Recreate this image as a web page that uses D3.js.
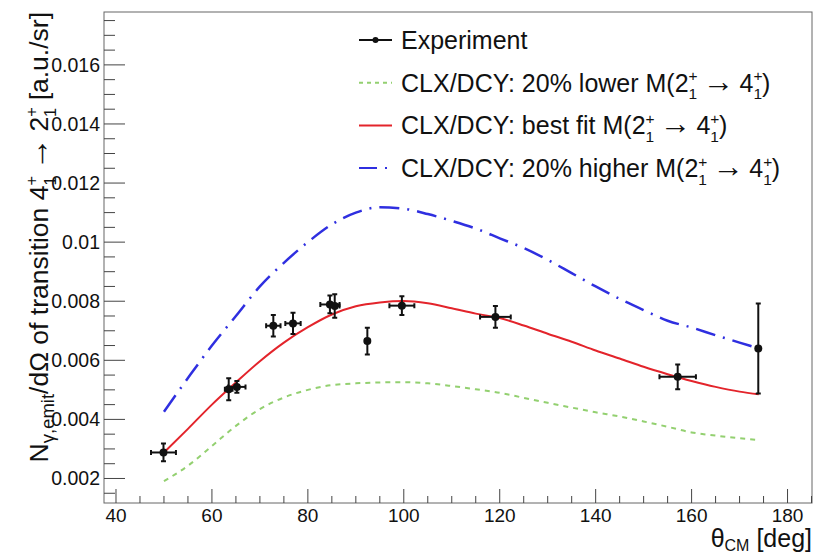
<!DOCTYPE html>
<html lang="en">
<head>
    <meta charset="UTF-8">
    <title>Gamma yield vs theta CM</title>
    <script src="https://d3js.org/d3.v7.min.js"></script>
    <style>
        body { margin: 0; background: #fff; }
        svg text { font-family: "Liberation Sans", Arial, sans-serif; fill: #111; }
        .frame { fill: none; stroke: #666; stroke-width: 1; }
        .tick line { stroke: #444; }
    </style>
</head>
<body>
    <div id="chart"></div>

    <script>
        // Experimental points
        const thetaExp = [49.9, 63.5, 65.2, 72.8, 76.9, 84.6, 85.6, 92.4, 99.6, 119.1, 157.1, 173.9];
        const thetaErr = [2.6, 0.8, 1.8, 1.5, 1.6, 2.0, 1.0, 0.4, 2.6, 3.2, 3.8, 0];
        const yieldExp = [0.00288, 0.00502, 0.0051, 0.00717, 0.00725, 0.00789, 0.00784, 0.00665, 0.00785, 0.00747, 0.00544, 0.0064];
        const yieldErr = [0.0003, 0.00037, 0.0002, 0.00036, 0.00036, 0.0003, 0.0004, 0.00045, 0.00032, 0.00037, 0.00042, 0.00152];

        // CLX/DCY calculations
        const thetaCalc = [50, 55, 60, 65, 70, 75, 80, 85, 90, 95, 100, 105, 110, 115, 120, 125, 130, 135, 140, 145, 150, 155, 160, 165, 170, 174];
        const calcLower = [0.00191, 0.00243, 0.0031, 0.00378, 0.00435, 0.00474, 0.005, 0.00516, 0.00522, 0.00525, 0.00526, 0.00522, 0.00513, 0.00502, 0.0049, 0.00473, 0.00456, 0.0044, 0.00424, 0.0041, 0.00393, 0.00375, 0.00356, 0.00345, 0.00336, 0.0033];
        const calcBest = [0.00288, 0.00368, 0.0045, 0.00525, 0.00597, 0.0066, 0.00712, 0.00755, 0.00783, 0.00796, 0.00801, 0.00793, 0.00776, 0.00758, 0.00743, 0.00718, 0.0069, 0.00663, 0.00633, 0.00606, 0.00578, 0.00553, 0.0053, 0.0051, 0.00494, 0.00485];
        const calcHigher = [0.00426, 0.0054, 0.0065, 0.0075, 0.0085, 0.0093, 0.01, 0.0106, 0.011, 0.01118, 0.01113, 0.01095, 0.01072, 0.01046, 0.01013, 0.0098, 0.0094, 0.00895, 0.0085, 0.00808, 0.0077, 0.00734, 0.00711, 0.00685, 0.0066, 0.0064];

        const xTicks = [40, 60, 80, 100, 120, 140, 160, 180];
        const yTicks = [0.002, 0.004, 0.006, 0.008, 0.01, 0.012, 0.014, 0.016];

        const width = 819, height = 555;
        const frame = {left: 104, right: 812, top: 12, bottom: 503};

        const svg = d3.select("#chart").append("svg")
            .attr("width", width)
            .attr("height", height);

        const x = d3.scaleLinear().domain([37.5, 185.1]).range([frame.left, frame.right]);
        const y = d3.scaleLinear().domain([0.00117, 0.01779]).range([frame.bottom, frame.top]);

        // frame box
        svg.append("rect").attr("class", "frame")
            .attr("x", frame.left).attr("y", frame.top)
            .attr("width", frame.right - frame.left).attr("height", frame.bottom - frame.top);

        // x axis ticks (major every 20, minor every 5)
        const xMinor = d3.range(40, 185.1, 5).filter(v => v % 20 !== 0);
        const gx = svg.append("g").attr("class", "tick");
        gx.selectAll(".maj").data(xTicks).enter().append("line")
            .attr("x1", d => x(d)).attr("x2", d => x(d))
            .attr("y1", frame.bottom).attr("y2", frame.bottom - 14);
        gx.selectAll(".min").data(xMinor).enter().append("line")
            .attr("x1", d => x(d)).attr("x2", d => x(d))
            .attr("y1", frame.bottom).attr("y2", frame.bottom - 7);
        gx.selectAll("text").data(xTicks).enter().append("text")
            .attr("x", d => x(d)).attr("y", 522)
            .attr("text-anchor", "middle")
            .style("font-size", "19px")
            .text(d => d);

        // y axis ticks (major every 0.002, minor every 0.0005)
        const yMinor = d3.range(0.0015, 0.01779, 0.0005).filter(v => Math.abs(v / 0.002 - Math.round(v / 0.002)) > 0.01);
        const gy = svg.append("g").attr("class", "tick");
        gy.selectAll(".maj").data(yTicks).enter().append("line")
            .attr("x1", frame.left).attr("x2", frame.left + 21)
            .attr("y1", d => y(d)).attr("y2", d => y(d));
        gy.selectAll(".min").data(yMinor).enter().append("line")
            .attr("x1", frame.left).attr("x2", frame.left + 11)
            .attr("y1", d => y(d)).attr("y2", d => y(d));
        gy.selectAll("text").data(yTicks).enter().append("text")
            .attr("x", 100).attr("y", d => y(d) + 7)
            .attr("text-anchor", "end")
            .style("font-size", "19.5px")
            .text(d => +d.toFixed(3));

        // ROOT-like "a_{b}^{c}": base, then sup and sub stacked at the same x.
        // Leaves the baseline shifted down by the returned amount.
        function stacked(t, base, sub, sup, size, preDx, preDy) {
            const s = size * 0.62;
            t.append("tspan").attr("dx", preDx || 0).attr("dy", preDy || 0).text(base);
            t.append("tspan").attr("dy", -size * 0.42).style("font-size", s + "px").text(sup);
            t.append("tspan").attr("dx", -s * 0.584).attr("dy", size * 0.72).style("font-size", s + "px").text(sub);
            return size * 0.30;
        }
        // "A -> B" with both stacked
        function transition(t, a, b, size, tail) {
            let off = stacked(t, a, "1", "+", size, 0, 0);
            t.append("tspan").attr("dx", size * 0.22).attr("dy", -off)
                .style("font-size", (size * 1.25) + "px").text("\u2192");
            off = stacked(t, b, "1", "+", size, size * 0.22, 0);
            t.append("tspan").attr("dy", -off).text(tail);
        }

        // axis titles
        const xt = svg.append("text")
            .attr("x", frame.right).attr("y", 547)
            .attr("text-anchor", "end")
            .style("font-size", "25px");
        xt.append("tspan").text("θ");
        xt.append("tspan").attr("dy", 4).style("font-size", "16px").text("CM");
        xt.append("tspan").attr("dy", -4).text(" [deg]");

        const yt = svg.append("text")
            .attr("transform", "translate(48," + frame.top + ") rotate(-90)")
            .attr("text-anchor", "end")
            .style("font-size", "26.5px");
        yt.append("tspan").text("N");
        yt.append("tspan").attr("dy", 6).style("font-size", "18.5px").text("γ,emit");
        yt.append("tspan").attr("dy", -6).text("/dΩ of transition ");
        transition(yt, "4", "2", 26.5, " [a.u./sr]");

        // calculated curves
        const line = d3.line().x(d => x(d[0])).y(d => y(d[1])).curve(d3.curveMonotoneX);
        const curves = [
            {vals: calcLower, color: "#93d070", dash: "5,5", w: 2},
            {vals: calcBest, color: "#e3242b", dash: null, w: 2},
            {vals: calcHigher, color: "#2f2fe0", dash: "20,8,2,8", w: 2.5}
        ];
        curves.forEach(function(c) {
            svg.append("path")
                .datum(thetaCalc.map((t, i) => [t, c.vals[i]]))
                .attr("fill", "none")
                .attr("stroke", c.color)
                .attr("stroke-width", c.w)
                .attr("stroke-dasharray", c.dash)
                .attr("d", line);
        });

        // experimental points with error bars
        const pts = thetaExp.map((t, i) => ({t: t, dt: thetaErr[i], v: yieldExp[i], dv: yieldErr[i]}));
        const pg = svg.selectAll(".pt").data(pts).enter().append("g")
            .attr("stroke", "#111").attr("stroke-width", 2);
        pg.filter(d => d.dt > 0).append("line")
            .attr("x1", d => x(d.t - d.dt)).attr("x2", d => x(d.t + d.dt))
            .attr("y1", d => y(d.v)).attr("y2", d => y(d.v));
        pg.append("line")
            .attr("x1", d => x(d.t)).attr("x2", d => x(d.t))
            .attr("y1", d => y(d.v - d.dv)).attr("y2", d => y(d.v + d.dv));
        // end caps
        pg.filter(d => d.dt > 0).append("path")
            .attr("d", d => "M" + x(d.t - d.dt) + "," + (y(d.v) - 2.5) + "v5M" + x(d.t + d.dt) + "," + (y(d.v) - 2.5) + "v5");
        pg.append("path")
            .attr("d", d => "M" + (x(d.t) - 2.5) + "," + y(d.v - d.dv) + "h5M" + (x(d.t) - 2.5) + "," + y(d.v + d.dv) + "h5");
        pg.append("circle")
            .attr("cx", d => x(d.t)).attr("cy", d => y(d.v))
            .attr("r", 4).attr("fill", "#111").attr("stroke", "none");

        // legend
        const legend = [
            {label: "Experiment", color: "#111", dash: null, point: true},
            {label: "CLX/DCY: 20% lower M(", color: "#93d070", dash: "4,4"},
            {label: "CLX/DCY: best fit M(", color: "#e3242b", dash: null},
            {label: "CLX/DCY: 20% higher M(", color: "#2f2fe0", dash: "18,8,2,8"}
        ];
        const lg = svg.append("g");
        legend.forEach(function(e, i) {
            const cy = 40 + i * 42.7;
            lg.append("line")
                .attr("x1", 359).attr("x2", 392)
                .attr("y1", cy).attr("y2", cy)
                .attr("stroke", e.color).attr("stroke-width", 2)
                .attr("stroke-dasharray", e.dash);
            if (e.point) {
                lg.append("circle").attr("cx", 375.5).attr("cy", cy).attr("r", 3).attr("fill", "#111");
            }
            const t = lg.append("text")
                .attr("x", 401).attr("y", cy + 9)
                .style("font-size", "25px");
            t.append("tspan").text(e.label);
            if (!e.point) transition(t, "2", "4", 25, ")");
        });
    </script>
</body>
</html>
